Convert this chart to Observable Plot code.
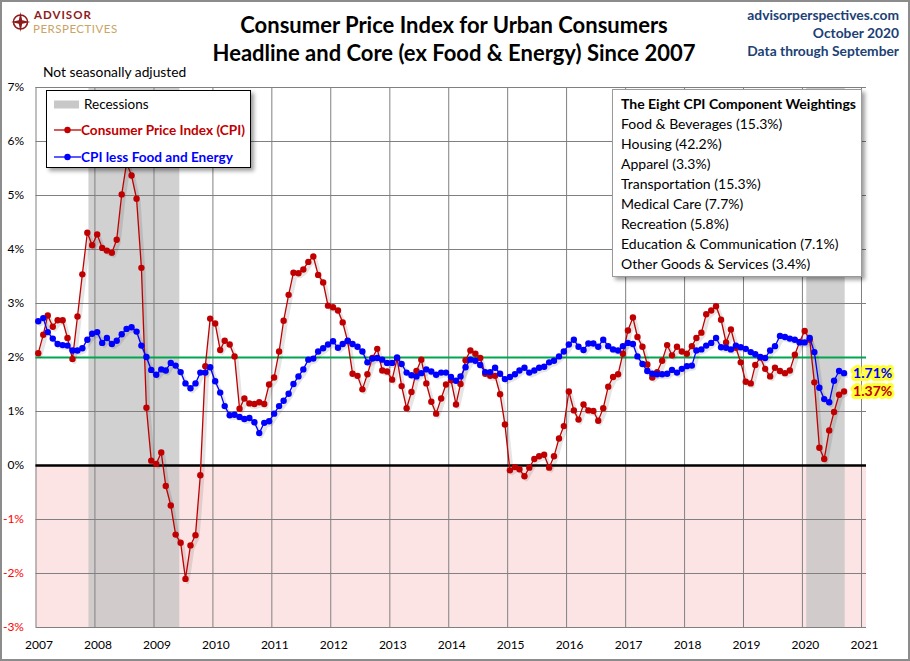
<!DOCTYPE html>
<html>
<head>
<meta charset="utf-8">
<script src="https://cdn.jsdelivr.net/npm/d3@7"></script>
<script src="https://cdn.jsdelivr.net/npm/@observablehq/plot@0.6"></script>
<style>
  html, body { margin: 0; padding: 0; background: #fff; }
  #wrap { position: relative; width: 910px; height: 661px; overflow: hidden; background: #fff; font-family: Lato, "Open Sans", sans-serif; }
  .abs { position: absolute; white-space: nowrap; }
  #border { position: absolute; left: 0; top: 0; width: 910px; height: 661px; box-sizing: border-box; border: 2px solid #8c8c8c; pointer-events: none; }
  #chart svg { display: block; }
  .box { position: absolute; background: #fff; box-shadow: 3px 3px 4px rgba(0,0,0,0.38); box-sizing: border-box; }
</style>
</head>
<body>
<div id="wrap">
  <div id="hdr" style="position:relative;height:80px;">
    <svg class="abs" style="left:11px;top:12px" width="20" height="20" viewBox="0 0 20 20">
      <circle cx="9.5" cy="10" r="7" fill="none" stroke="#8e1b1b" stroke-width="1.6"/>
      <polygon points="9.5,0 11.2,8.3 19.5,10 11.2,11.7 9.5,20 7.8,11.7 -0.5,10 7.8,8.3" fill="#8e1b1b"/>
    </svg>
    <div class="abs" style="left:34px;top:7.5px;line-height:14px;font-size:11.5px;font-weight:bold;color:#8e1b1b;letter-spacing:1px;">ADVISOR</div>
    <div class="abs" style="left:33px;top:21.5px;line-height:14px;font-size:11.5px;color:#c9a464;letter-spacing:0.5px;">PERSPECTIVES</div>
    <div class="abs" id="title" style="left:0;top:11px;width:908px;text-align:center;line-height:28px;font-size:22px;font-weight:bold;color:#000;"></div>
    <div class="abs" id="rhead" style="right:11px;top:6px;text-align:right;line-height:18px;font-size:13.8px;font-weight:bold;color:#203f75;"></div>
    <div class="abs" id="nsa" style="left:43px;top:63px;line-height:18px;font-size:13.8px;color:#000;"></div>
  </div>
  <div id="chart"></div>

  <div class="box" id="legend" style="left:46px;top:90px;width:205px;height:78px;border:1px solid #000;">
    <svg class="abs" style="left:0;top:0" width="40" height="78">
      <rect x="7" y="9.5" width="25" height="8" fill="#c8c8c8"/>
      <line x1="7" x2="34" y1="39" y2="39" stroke="#c00000" stroke-width="1.3"/>
      <circle cx="20.5" cy="39" r="3.2" fill="#c00000"/>
      <line x1="7" x2="34" y1="66" y2="66" stroke="#0000ff" stroke-width="1.3"/>
      <circle cx="20.5" cy="66" r="3.2" fill="#0000ff"/>
    </svg>
    <div class="abs" id="lg0" style="left:37px;top:3px;line-height:20px;font-size:13.5px;color:#000;"></div>
    <div class="abs" id="lg1" style="left:34px;top:29px;line-height:20px;font-size:13.6px;font-weight:bold;color:#c00000;"></div>
    <div class="abs" id="lg2" style="left:34px;top:56px;line-height:20px;font-size:13.6px;font-weight:bold;color:#0000ff;"></div>
  </div>

  <div class="box" id="weights" style="left:612px;top:89px;width:250px;height:188px;border:1px solid #9a9a9a;padding:4px 0 0 8px;font-size:14px;line-height:20px;color:#000;"></div>

  <div id="border"></div>
</div>

<script>
// ---------- Data ----------
const titleLines = ["Consumer Price Index for Urban Consumers", "Headline and Core (ex Food & Energy) Since 2007"];
const rightHeader = ["advisorperspectives.com", "October 2020", "Data through September"];
const subNote = "Not seasonally adjusted";
const legendLabels = ["Recessions", "Consumer Price Index (CPI)", "CPI less Food and Energy"];
const weightTitle = "The Eight CPI Component Weightings";
const weightings = [
  "Food & Beverages (15.3%)",
  "Housing (42.2%)",
  "Apparel (3.3%)",
  "Transportation (15.3%)",
  "Medical Care (7.7%)",
  "Recreation (5.8%)",
  "Education & Communication (7.1%)",
  "Other Goods & Services (3.4%)"
];

// Monthly YoY %, Jan 2007 .. Sep 2020
const startYear = 2007;
const cpi = [
  2.08, 2.42, 2.78, 2.57, 2.69, 2.69, 2.36, 1.97, 2.76, 3.54, 4.31, 4.08,
  4.28, 4.03, 3.98, 3.94, 4.18, 5.02, 5.60, 5.37, 4.94, 3.66, 1.07, 0.09,
  0.03, 0.24, -0.38, -0.74, -1.28, -1.43, -2.10, -1.48, -1.29, -0.18, 1.84, 2.72,
  2.63, 2.14, 2.31, 2.24, 2.02, 1.05, 1.24, 1.15, 1.14, 1.17, 1.14, 1.50,
  1.63, 2.11, 2.68, 3.16, 3.57, 3.56, 3.63, 3.77, 3.87, 3.53, 3.39, 2.96,
  2.93, 2.87, 2.65, 2.30, 1.70, 1.66, 1.41, 1.69, 1.99, 2.16, 1.76, 1.74,
  1.59, 1.98, 1.47, 1.06, 1.36, 1.75, 1.96, 1.52, 1.18, 0.96, 1.24, 1.50,
  1.58, 1.13, 1.51, 1.95, 2.13, 2.07, 1.99, 1.70, 1.66, 1.66, 1.32, 0.76,
  -0.09, -0.03, -0.07, -0.20, -0.04, 0.12, 0.17, 0.20, -0.04, 0.17, 0.50, 0.73,
  1.37, 1.02, 0.85, 1.13, 1.02, 1.01, 0.83, 1.06, 1.46, 1.64, 1.69, 2.07,
  2.50, 2.74, 2.38, 2.20, 1.87, 1.63, 1.73, 1.94, 2.23, 2.04, 2.20, 2.11,
  2.07, 2.21, 2.36, 2.46, 2.80, 2.87, 2.95, 2.70, 2.28, 2.52, 2.18, 1.91,
  1.55, 1.52, 1.86, 2.00, 1.79, 1.65, 1.81, 1.75, 1.71, 1.76, 2.05, 2.29,
  2.49, 2.33, 1.54, 0.33, 0.12, 0.65, 0.99, 1.31, 1.37
];
const core = [
  2.67, 2.73, 2.47, 2.35, 2.25, 2.23, 2.22, 2.13, 2.13, 2.17, 2.33, 2.44,
  2.47, 2.27, 2.36, 2.25, 2.31, 2.43, 2.53, 2.56, 2.48, 2.22, 2.01, 1.77,
  1.68, 1.78, 1.76, 1.90, 1.85, 1.73, 1.52, 1.43, 1.52, 1.72, 1.72, 1.82,
  1.56, 1.35, 1.10, 0.93, 0.94, 0.90, 0.86, 0.88, 0.80, 0.60, 0.79, 0.82,
  0.96, 1.10, 1.20, 1.33, 1.51, 1.65, 1.78, 1.96, 1.98, 2.11, 2.17, 2.24,
  2.30, 2.18, 2.25, 2.31, 2.25, 2.20, 2.11, 1.91, 1.98, 1.99, 1.96, 1.90,
  1.90, 2.00, 1.88, 1.72, 1.67, 1.65, 1.71, 1.78, 1.74, 1.68, 1.72, 1.72,
  1.64, 1.57, 1.65, 1.82, 1.96, 1.94, 1.86, 1.73, 1.73, 1.81, 1.70, 1.60,
  1.64, 1.69, 1.76, 1.81, 1.72, 1.76, 1.81, 1.83, 1.91, 1.94, 2.02, 2.11,
  2.24, 2.33, 2.20, 2.14, 2.26, 2.26, 2.20, 2.33, 2.21, 2.15, 2.13, 2.21,
  2.27, 2.25, 2.02, 1.88, 1.75, 1.70, 1.69, 1.69, 1.70, 1.77, 1.72, 1.79,
  1.84, 1.85, 2.13, 2.15, 2.22, 2.27, 2.36, 2.19, 2.18, 2.15, 2.22, 2.19,
  2.16, 2.10, 2.06, 2.01, 1.99, 2.13, 2.21, 2.40, 2.38, 2.35, 2.33, 2.28,
  2.28, 2.36, 2.10, 1.44, 1.23, 1.17, 1.57, 1.75, 1.71
];
const recessions = [
  { start: "2007-11-25", end: "2009-06-10" },
  { start: "2020-01-28", end: "2020-09-22" }
];
const xTickYears = [2007, 2008, 2009, 2010, 2011, 2012, 2013, 2014, 2015, 2016, 2017, 2018, 2019, 2020, 2021];
const yTicks = [-3, -2, -1, 0, 1, 2, 3, 4, 5, 6, 7];
const targetLine = 2;
const xDomain = ["2007-01-01", "2021-02-01"];

// ---------- Text ----------
document.getElementById("title").innerHTML = titleLines.map(t => `<div>${t.replace(/&/g, "&amp;")}</div>`).join("");
document.getElementById("rhead").innerHTML = rightHeader.map(t => `<div>${t}</div>`).join("");
document.getElementById("nsa").textContent = subNote;
document.getElementById("lg0").textContent = legendLabels[0];
document.getElementById("lg1").textContent = legendLabels[1];
document.getElementById("lg2").textContent = legendLabels[2];
document.getElementById("weights").innerHTML =
  `<div style="font-weight:bold">${weightTitle}</div>` +
  weightings.map(t => `<div>${t.replace(/&/g, "&amp;")}</div>`).join("");

// ---------- Chart ----------
const utc = s => new Date(s + "T00:00:00Z");
const data = cpi.map((v, i) => ({ date: new Date(Date.UTC(startYear, i, 15)), cpi: v, core: core[i] }));
const recData = recessions.map(r => ({ start: utc(r.start), end: utc(r.end) }));
const yearDates = xTickYears.map(y => new Date(Date.UTC(y, 0, 1)));
const last = data[data.length - 1];
const x0 = utc(xDomain[0]);

const chart = Plot.plot({
  width: 910,
  height: 581,
  marginTop: 7,
  marginBottom: 34,
  marginLeft: 35.5,
  marginRight: 44,
  style: { fontFamily: "Lato, 'Open Sans', sans-serif", background: "transparent", overflow: "visible" },
  x: { type: "utc", domain: [utc(xDomain[0]), utc(xDomain[1])], axis: null },
  y: { domain: [-3, 7], axis: null },
  marks: [
    Plot.rect([{ lo: -3, hi: 0 }], { y1: "lo", y2: "hi", fill: "#fde4e4" }),
    Plot.rect(recData, { x1: "start", x2: "end", fill: "#c4c4c4", fillOpacity: 0.78 }),
    Plot.ruleX(yearDates, { stroke: "#808080", strokeWidth: 1 }),
    Plot.ruleY(yTicks, { stroke: "#808080", strokeWidth: 1 }),
    Plot.ruleY([0], { stroke: "#000", strokeWidth: 2.6 }),
    Plot.ruleY([targetLine], { stroke: "#00a650", strokeWidth: 2 }),
    // soft shadows
    Plot.line(data, { x: "date", y: "cpi", stroke: "#000", strokeOpacity: 0.10, strokeWidth: 4, dx: 2, dy: 3 }),
    Plot.line(data, { x: "date", y: "core", stroke: "#000", strokeOpacity: 0.10, strokeWidth: 4, dx: 2, dy: 3 }),
    // CPI headline
    Plot.line(data, { x: "date", y: "cpi", stroke: "#c00000", strokeWidth: 1.3 }),
    Plot.dot(data, { x: "date", y: "cpi", fill: "#c00000", r: 3.2 }),
    // Core
    Plot.line(data, { x: "date", y: "core", stroke: "#0000ff", strokeWidth: 1.3 }),
    Plot.dot(data, { x: "date", y: "core", fill: "#0000ff", r: 3.2 }),
    // end labels
    Plot.text([last], { x: "date", y: "core", text: d => d.core.toFixed(2) + "%", dx: 9, textAnchor: "start",
      fill: "#0000ff", stroke: "#ffff33", strokeWidth: 6, strokeLinejoin: "round", fontWeight: "bold", fontSize: 14 }),
    Plot.text([last], { x: "date", y: "cpi", text: d => d.cpi.toFixed(2) + "%", dx: 9, textAnchor: "start",
      fill: "#c00000", stroke: "#ffff33", strokeWidth: 6, strokeLinejoin: "round", fontWeight: "bold", fontSize: 14 }),
    // axes labels
    Plot.text(yTicks, { x: x0, y: d => d, text: d => d + "%", textAnchor: "end", dx: -12,
      fill: d => (d < 0 ? "#ff0000" : "#000000"), fontSize: 12 }),
    Plot.text(yearDates, { x: d => d, y: -3, text: d => String(d.getUTCFullYear()), dx: 3, dy: 18, fill: "#000", fontSize: 12 })
  ]
});
document.getElementById("chart").appendChild(chart);
</script>
</body>
</html>
